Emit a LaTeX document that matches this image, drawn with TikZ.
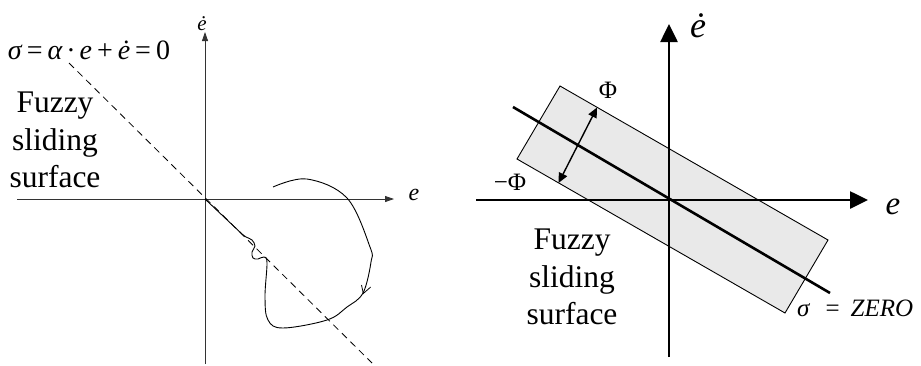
\documentclass[tikz,border=0pt]{standalone}
\usepackage{fontspec}
\setmainfont{Liberation Serif}
\usetikzlibrary{arrows.meta}
\tikzset{
  thinaxis/.style={draw=black!80, line width=0.8pt, -{Triangle[length=9pt,width=6pt]}},
  thickaxis/.style={draw=black, line width=2.6pt, -{Triangle[length=18pt,width=17pt]}},
  lbl/.style={inner sep=0pt},
  surf/.style={align=center, inner sep=0pt, font=\fontsize{31.5}{37.5}\selectfont},
}
\begin{document}
\begin{tikzpicture}[x=1pt,y=-1pt]
\useasboundingbox (0,0) rectangle (921,365);
% ---------------- left diagram ----------------
\coordinate (lo) at (205,199);
\coordinate (lxs) at (17,199);
\coordinate (lxe) at (394,199);
\coordinate (lys) at (205,364);
\coordinate (lye) at (205,32);
\draw[thinaxis] (lxs) -- (lxe);
\draw[thinaxis] (lys) -- (lye);
\coordinate (ds) at (69,63);
\coordinate (de) at (372,363);
\draw[line width=0.8pt, dash pattern=on 7pt off 5pt] (ds) -- (de);
\node[lbl, font=\fontsize{24}{26}\selectfont] (le) at (414,195) {\itshape e};
\node[lbl, font=\fontsize{21}{22}\selectfont] (led) at (202,24) {\itshape ė};
\node[lbl, font=\fontsize{28}{30}\selectfont] (eq) at (89,50)
  {{\itshape σ}\hspace{5pt}=\hspace{5pt}{\itshape α}\hspace{4pt}·\hspace{4pt}{\itshape e}\hspace{5pt}+\hspace{5pt}{\itshape ė}\hspace{5pt}=\hspace{5pt}0};
\node[surf] (fz1) at (55,140) {Fuzzy\\sliding\\surface};
% trajectory
\draw[line width=0.9pt] plot[smooth, tension=0.6] coordinates {
  (273,187) (307,179) (347,198) (370,247) (371,262) (363,293) (347,307) (327,320)
  (283,328) (268,320) (265,297) (267,263) (264,257) (258,259) (253,258) (252,252)
  (255,246) (252,240) (246,237) (242,234)}
  -- (lo);
\draw[line width=0.8pt] (361.5,285) -- (363.3,293.5) -- (370.7,287);
% ---------------- right diagram ----------------
\coordinate (ro) at (669,200);
\fill[gray!17] (560,86) -- (828,240) -- (785,313) -- (517,159) -- cycle;
\draw[line width=0.9pt] (560,86) -- (828,240) -- (785,313) -- (517,159) -- cycle;
\coordinate (rxs) at (476,200);
\coordinate (rxe) at (868,200);
\coordinate (rys) at (669,357);
\coordinate (rye) at (669,24);
\draw[thickaxis] (rxs) -- (rxe);
\draw[thickaxis] (rys) -- (rye);
\coordinate (ss) at (513,107);
\coordinate (se) at (830,293);
\draw[line width=2.6pt] (ss) -- (se);
\coordinate (pu) at (597,107.5);
\coordinate (pl) at (558.5,183);
\draw[line width=1.4pt, {Triangle[length=10pt,width=9pt]}-{Triangle[length=10pt,width=9pt]}] (pl) -- (pu);
\node[lbl, font=\fontsize{25}{26}\selectfont] (phi) at (608,90) {Φ};
\node[lbl, font=\fontsize{25}{26}\selectfont] (mphi) at (510,182) {−Φ};
\node[lbl, font=\fontsize{33}{36}\selectfont] (re) at (893,207) {\itshape e};
\node[lbl, font=\fontsize{36}{38}\selectfont] (red) at (698,26) {\itshape ė};
\node[surf] (fz2) at (572,277) {Fuzzy\\sliding\\surface};
\node[lbl, anchor=west, font=\fontsize{25}{27}\selectfont] (zero) at (797,308) {{\itshape σ}\hspace{16pt}=\hspace{11pt}{\itshape ZERO}};
\end{tikzpicture}
\end{document}
